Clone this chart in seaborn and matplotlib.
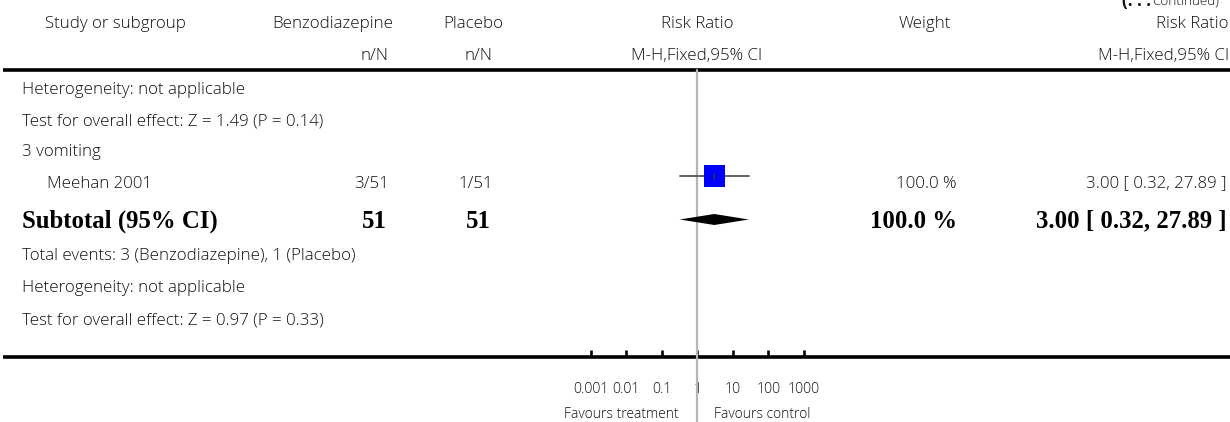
import matplotlib
matplotlib.use("Agg")
import matplotlib.pyplot as plt
import seaborn as sns
import pandas as pd
import numpy as np

# ---------------- data ----------------
study_names = ["Meehan 2001"]
treat_events = [3]
treat_total = [51]
ctrl_events = [1]
ctrl_total = [51]
rr = [3.00]
rr_lo = [0.32]
rr_hi = [27.89]
weights = [100.0]

sub_rr = 3.00
sub_lo = 0.32
sub_hi = 27.89
sub_treat_total = 51
sub_ctrl_total = 51
sub_weight = 100.0

tick_values = [0.001, 0.01, 0.1, 1, 10, 100, 1000]
tick_labels = ["0.001", "0.01", "0.1", "1", "10", "100", "1000"]

# ---------------- styling ----------------
sns.set_theme(style="white")
plt.rcParams["font.family"] = ["Open Sans", "DejaVu Sans"]

W, H = 1230, 422
fig = plt.figure(figsize=(W / 100, H / 100), dpi=100)

# text layer in pixel-like layout coordinates
tx = fig.add_axes([0, 0, 1, 1])
tx.set_xlim(0, W)
tx.set_ylim(H, 0)
tx.axis("off")

FS = 12.2
FW = "light"
TC = "#111111"
SERIF = ["Liberation Serif", "DejaVu Serif"]
BFS = 17.8
DY = 1.5

def t(x, y, s, ha="left", **kw):
    kw.setdefault("fontsize", FS)
    kw.setdefault("color", TC)
    kw.setdefault("fontweight", FW)
    tx.text(x, y + DY, s, ha=ha, va="center", **kw)

def b(x, y, s, ha="left"):
    tx.text(x, y, s, ha=ha, va="center", family=SERIF, fontweight="bold",
            fontsize=BFS, color="black")

# header
t(115, 22, "Study or subgroup", ha="center")
t(333, 22, "Benzodiazepine", ha="center")
t(473, 22, "Placebo", ha="center")
t(697, 22, "Risk Ratio", ha="center")
t(925, 22, "Weight", ha="center")
t(1229, 22, "Risk Ratio", ha="right")
t(389, 54, "n/N", ha="right")
t(493, 54, "n/N", ha="right")
t(697, 54, "M-H,Fixed,95% CI", ha="center")
t(1229, 54, "M-H,Fixed,95% CI", ha="right")
tx.text(1122, 1, "(. . . ", ha="left", va="center", fontsize=FS, color=TC, fontweight="bold")
tx.text(1152, 1, "Continued)", ha="left", va="center", fontsize=FS - 2.5, color=TC, fontweight=FW)

# rules
tx.plot([3, W], [69.5, 69.5], color="black", lw=2.6, solid_capstyle="butt")
tx.plot([3, W], [357, 357], color="black", lw=2.6, solid_capstyle="butt")

# rows
t(22, 88, "Heterogeneity: not applicable")
t(22, 120, "Test for overall effect: Z = 1.49 (P = 0.14)")
t(22, 151, "3 vomiting")
row_y = [182]
for i, name in enumerate(study_names):
    y = row_y[i]
    t(47, y, name)
    t(389, y, f"{treat_events[i]}/{treat_total[i]}", ha="right")
    t(493, y, f"{ctrl_events[i]}/{ctrl_total[i]}", ha="right")
    t(957, y, f"{weights[i]:.1f} %", ha="right")
    t(1227, y, f"{rr[i]:.2f} [ {rr_lo[i]:.2f}, {rr_hi[i]:.2f} ]", ha="right")

sub_y = 221
b(22, sub_y, "Subtotal (95% CI)")
b(387, sub_y, f"{sub_treat_total}", ha="right")
b(491, sub_y, f"{sub_ctrl_total}", ha="right")
b(957, sub_y, f"{sub_weight:.1f} %", ha="right")
b(1227, sub_y, f"{sub_rr:.2f} [ {sub_lo:.2f}, {sub_hi:.2f} ]", ha="right")

t(22, 255, f"Total events: {sum(treat_events)} (Benzodiazepine), {sum(ctrl_events)} (Placebo)")
t(22, 287, "Heterogeneity: not applicable")
t(22, 319, "Test for overall effect: Z = 0.97 (P = 0.33)")

t(679, 413, "Favours treatment", ha="right", fontsize=FS - 2.2)
t(714, 413, "Favours control", ha="left", fontsize=FS - 2.2)

# ---------------- forest axes ----------------
x0_px, x1_px = 590.7, 804.0   # pixel span for 0.001 .. 1000
y_top, y_bot = 69.5, 357.0
fx = fig.add_axes([x0_px / W, (H - y_bot) / H, (x1_px - x0_px) / W, (y_bot - y_top) / H])
fx.patch.set_alpha(0)
fx.set_xscale("log")
fx.set_xlim(tick_values[0], tick_values[-1])
fx.set_ylim(y_bot, y_top)
for s in fx.spines.values():
    s.set_visible(False)
fx.set_yticks([])
fx.set_xticks(tick_values)
fx.set_xticklabels(tick_labels, fontweight=FW)
fx.xaxis.set_minor_locator(matplotlib.ticker.NullLocator())
fx.tick_params(axis="x", direction="in", length=5, width=1.9, color="black",
               pad=18, labelsize=10.2, labelcolor=TC, bottom=True)
fx.grid(False)

# null line
fx.plot([1, 1], [y_top, 422], color="#b5b5b5", lw=1.6, clip_on=False, zorder=5)

# study CI and square
df = pd.DataFrame({"rr": rr, "lo": rr_lo, "hi": rr_hi, "y": [176.0] * len(rr)})
for _, r in df.iterrows():
    fx.plot([r.lo, r.hi], [r.y, r.y], color="#555555", lw=1.3, zorder=6)
sns.scatterplot(data=df, x="rr", y="y", marker="s", s=235, color="#0000ff",
                edgecolor="none", ax=fx, zorder=7, legend=False)
for _, r in df.iterrows():
    fx.plot([r.rr, r.rr], [r.y - 2.5, r.y + 2.5], color="#333333", lw=1.2, zorder=8)

# subtotal diamond
dy = 219.5
fx.fill([sub_lo, sub_rr, sub_hi, sub_rr], [dy, dy - 5.5, dy, dy + 5.5],
        color="black", lw=0, zorder=6)

fx.set_xlabel("")
fx.set_ylabel("")

fig.savefig("out.png", dpi=100)
